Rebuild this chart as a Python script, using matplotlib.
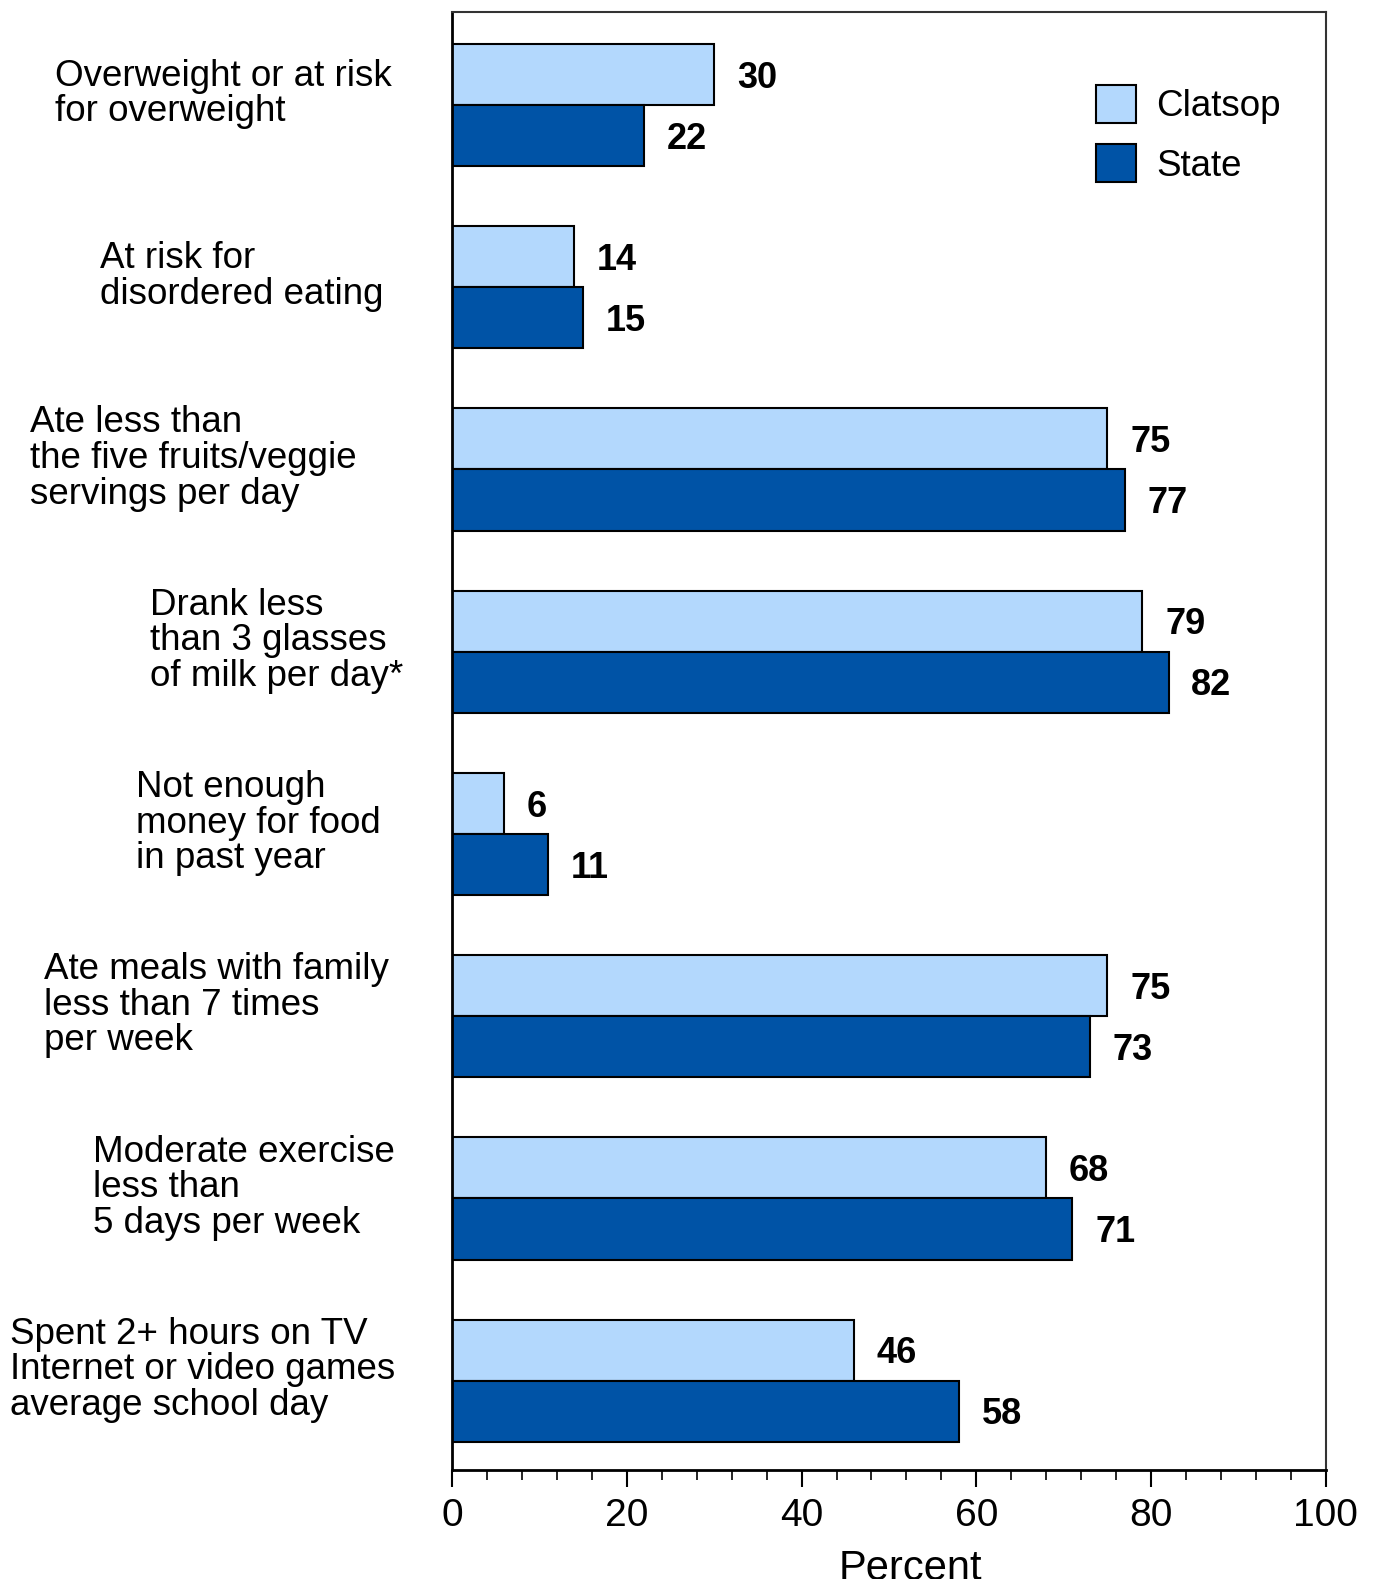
import numpy as np
import matplotlib as mpl
import matplotlib.pyplot as plt
from matplotlib.ticker import MultipleLocator

mpl.use('agg')
plt.rcParams['font.family'] = ['Liberation Sans', 'DejaVu Sans']

categories = [
    'Overweight or at risk\nfor overweight',
    'At risk for\ndisordered eating',
    'Ate less than\nthe five fruits/veggie\nservings per day',
    'Drank less\nthan 3 glasses\nof milk per day*',
    'Not enough\nmoney for food\nin past year',
    'Ate meals with family\nless than 7 times\nper week',
    'Moderate exercise\nless than\n5 days per week',
    'Spent 2+ hours on TV\nInternet or video games\naverage school day',
]
clatsop = [30, 14, 75, 79, 6, 75, 68, 46]
state = [22, 15, 77, 82, 11, 73, 71, 58]
series_names = ['Clatsop', 'State']

# left edge of each label block, in axes fraction (labels sit left of the axes)
label_x = [-0.454, -0.403, -0.483, -0.346, -0.362, -0.467, -0.411, -0.506]

light = '#b3d8fd'
dark = '#0053a6'

################################################################################
fig = plt.figure(figsize=(13.75, 15.79), dpi=100)
ax = fig.add_axes([0.3287, 0.069, 0.6356, 0.9234])
################################################################################

y = np.arange(len(categories))
h = 0.335

b1 = ax.barh(y - h / 2, clatsop, height=h, color=light, edgecolor='black',
             linewidth=1.5, label=series_names[0])
b2 = ax.barh(y + h / 2, state, height=h, color=dark, edgecolor='black',
             linewidth=1.5, label=series_names[1])

for bars, vals in ((b1, clatsop), (b2, state)):
    for bar, v in zip(bars, vals):
        ax.text(v + 2.6, bar.get_y() + bar.get_height() / 2 + 0.02, str(v),
                ha='left', va='center', fontsize=26, fontweight='bold')

for i, lab in enumerate(categories):
    ax.text(label_x[i], i - 0.06, lab, transform=ax.get_yaxis_transform(),
            ha='left', va='center', fontsize=26.5, linespacing=1.02)

ax.set_xlim(0, 100)
ax.set_ylim(7.49, -0.51)
ax.set_yticks([])
ax.xaxis.set_major_locator(MultipleLocator(20))
ax.xaxis.set_minor_locator(MultipleLocator(4))
ax.tick_params(axis='x', which='major', direction='out', length=12, width=1.5,
               labelsize=28, pad=8)
ax.tick_params(axis='x', which='minor', direction='out', length=7, width=1.2)
ax.set_xlabel('Percent', fontsize=30)
ax.xaxis.set_label_coords(0.525, -0.054)

ax.spines['left'].set_linewidth(2)
ax.spines['bottom'].set_linewidth(2)
for s in ('top', 'right'):
    ax.spines[s].set_linewidth(1.5)
    ax.spines[s].set_color('#333333')

ax.legend(loc='upper left', bbox_to_anchor=(0.737, 0.95), frameon=False,
          fontsize=26.5, handlelength=1.09, handleheight=1.2,
          handletextpad=0.55, labelspacing=0.55, borderpad=0, borderaxespad=0)

plt.savefig('out.png')
